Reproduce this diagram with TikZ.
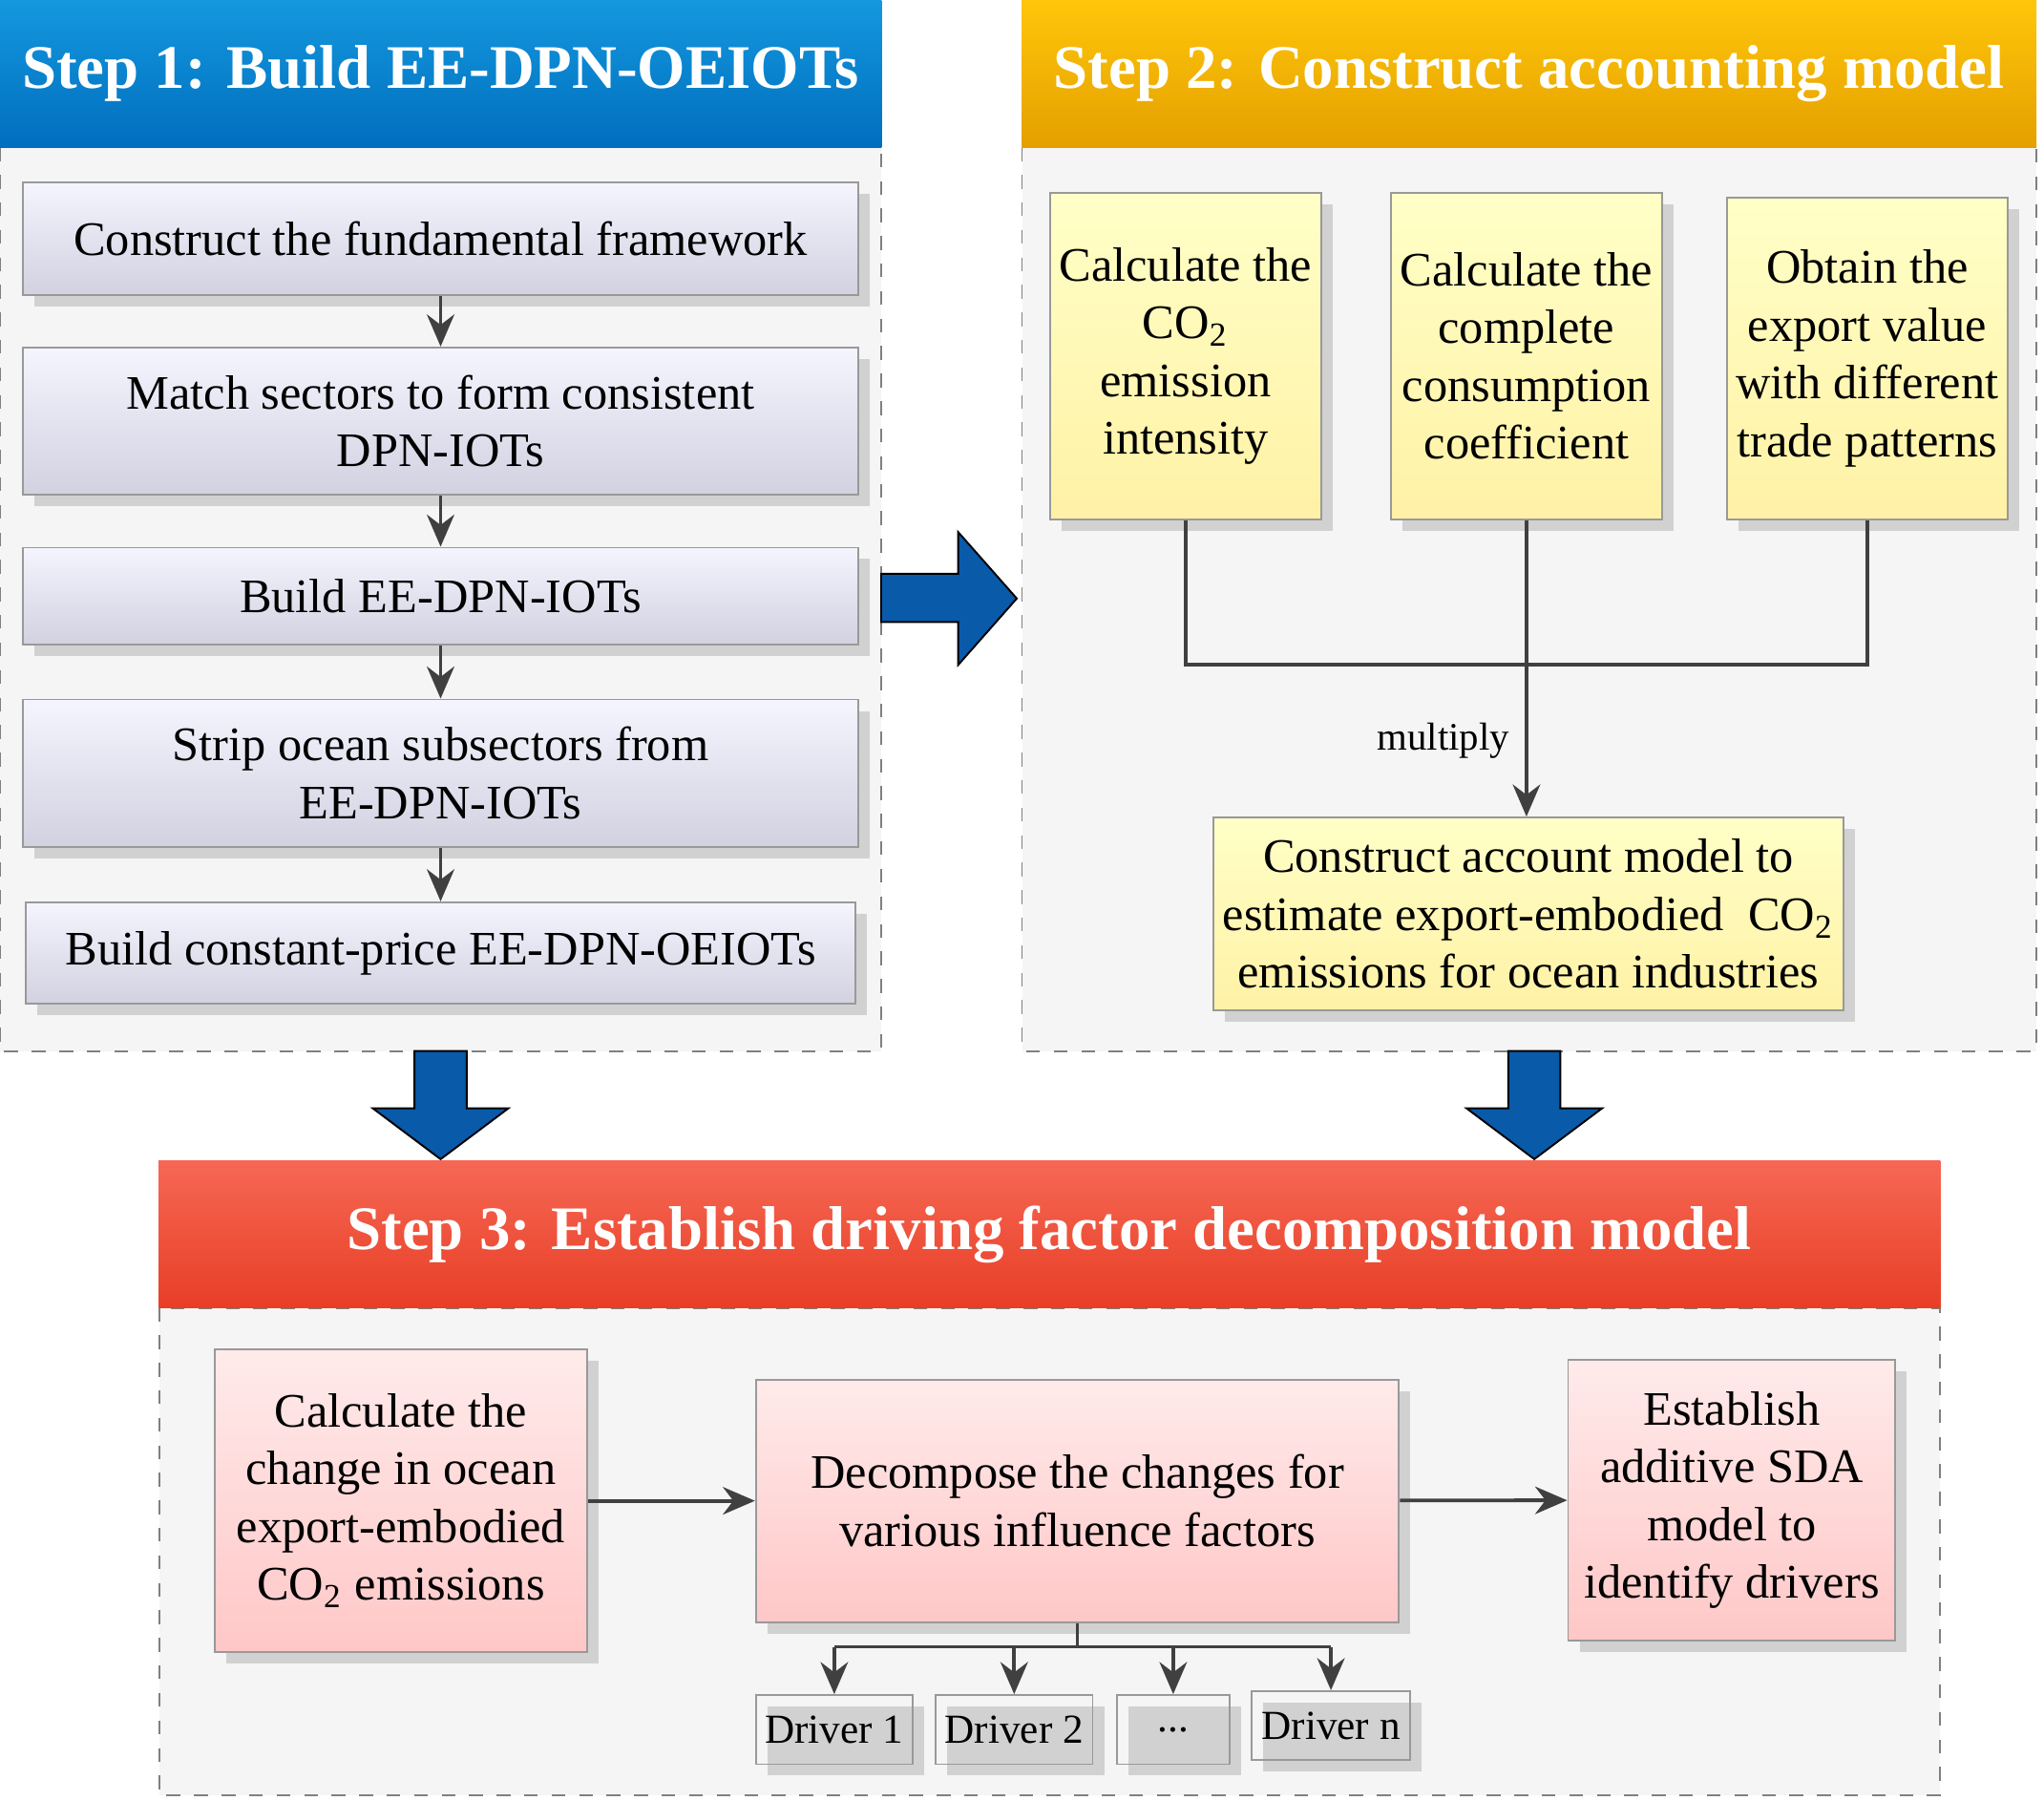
\documentclass[tikz,border=0pt]{standalone}
\usepackage{fontspec}
\setmainfont{Liberation Serif}
\usetikzlibrary{positioning,shadows,arrows.meta}

\definecolor{hdblueT}{RGB}{20,152,222}
\definecolor{hdblueB}{RGB}{0,110,190}
\definecolor{hdgoldT}{RGB}{255,198,10}
\definecolor{hdgoldB}{RGB}{228,160,0}
\definecolor{hdredT}{RGB}{246,104,84}
\definecolor{hdredB}{RGB}{232,62,38}
\definecolor{arrowblue}{RGB}{10,90,170}

\begin{document}
\begin{tikzpicture}[x=0.01cm,y=-0.01cm,
  every node/.style={font=\fontsize{10.5}{12.6}\selectfont},
  header/.style={minimum height=1.13cm, inner sep=0pt, text=white,
    font=\fontsize{13.5}{16}\selectfont\bfseries},
  panel/.style={draw=gray, dashed, fill=gray!8},
  stepbox/.style={draw=gray!80, align=center, inner sep=2pt,
    drop shadow={opacity=0.3,shadow xshift=2.5pt,shadow yshift=-2.5pt}},
  bluebox/.style={stepbox, top color=blue!4, bottom color=blue!20!gray!30, minimum width=6.4cm},
  yellowbox/.style={stepbox, top color=yellow!22, bottom color=orange!30!yellow!35},
  pinkbox/.style={stepbox, top color=red!8, bottom color=red!22},
  driver/.style={stepbox, minimum height=0.53cm, font=\fontsize{9}{11}\selectfont},
  link/.style={draw=black!75, thick, -{Stealth[length=7pt,width=6pt]}},
  bigarrow/.style={fill=arrowblue}]
\useasboundingbox (0,0) rectangle (1568,1381);

% panels
\filldraw[panel] (0,113) rectangle (676,806);
\filldraw[panel] (784,113) rectangle (1562,806);
\filldraw[panel] (122,1003) rectangle (1488,1377);

% headers
\node[header, minimum width=6.76cm, top color=hdblueT, bottom color=hdblueB] (head1) at (338,56.5) {Step 1: Build EE-DPN-OEIOTs};
\node[header, minimum width=7.78cm, top color=hdgoldT, bottom color=hdgoldB] (head2) at (1173,56.5) {Step 2: Construct accounting model};
\node[header, minimum width=13.66cm, top color=hdredT, bottom color=hdredB] (head3) at (805,946.5) {Step 3: Establish driving factor decomposition model};

% step 1
\node[bluebox, minimum height=0.86cm] (frame) at (338,183) {Construct the fundamental framework};
\node[bluebox, minimum height=1.13cm] (match) at (338,323) {Match sectors to form consistent\\DPN-IOTs};
\node[bluebox, minimum height=0.74cm] (build) at (338,457) {Build EE-DPN-IOTs};
\node[bluebox, minimum height=1.13cm] (strip) at (338,593) {Strip ocean subsectors from\\EE-DPN-IOTs};
\node[bluebox, minimum height=0.78cm, minimum width=6.36cm] (const) at (338,731) {Build constant-price EE-DPN-OEIOTs};
\draw[link] (frame) -- (match);
\draw[link] (match) -- (build);
\draw[link] (build) -- (strip);
\draw[link] (strip) -- (const);

% step 2
\node[yellowbox, minimum width=2.05cm, minimum height=2.5cm] (intens) at (909.5,273) {Calculate the\\CO\textsubscript{2}\\emission\\intensity};
\node[yellowbox, minimum width=2.08cm, minimum height=2.5cm] (coeff) at (1171,273) {Calculate the\\complete\\consumption\\coefficient};
\node[yellowbox, minimum width=2.15cm, minimum height=2.46cm] (export) at (1432.5,275) {Obtain the\\export value\\with different\\trade patterns};
\node[yellowbox, minimum width=4.83cm, minimum height=1.48cm] (account) at (1172.5,701) {Construct account model to\\estimate export-embodied\ \ CO\textsubscript{2}\\emissions for ocean industries};
\coordinate (join) at (1171,510);
\draw[draw=black!75, thick] (intens.south) |- (join) -| (export.south);
\draw[draw=black!75, thick] (coeff.south) -- (join);
\draw[link] (join) -- (account.north -| join)
  node[pos=0.5, left, font=\fontsize{8.5}{10}\selectfont] {multiply};

% step 3
\node[pinkbox, minimum width=2.85cm, minimum height=2.32cm] (change) at (307.5,1151) {Calculate the\\change in ocean\\export-embodied\\CO\textsubscript{2} emissions};
\node[pinkbox, minimum width=4.93cm, minimum height=1.86cm] (decomp) at (826.5,1151) {Decompose the changes for\\various influence factors};
\node[pinkbox, minimum width=2.51cm, minimum height=2.15cm] (sda) at (1328.5,1150.5) {Establish\\additive SDA\\model to\\identify drivers};
\draw[link] (change) -- (decomp);
\draw[link] (decomp) -- (sda);
\node[driver, minimum width=1.2cm] (drv1) at (640,1326.5) {Driver 1};
\node[driver, minimum width=1.2cm] (drv2) at (778,1326.5) {Driver 2};
\node[driver, minimum width=0.86cm] (drvd) at (900,1326.5) {...};
\node[driver, minimum width=1.22cm] (drvn) at (1021,1323.5) {Driver n};
\coordinate (fork) at (826.5,1263);
\draw[draw=black!75, thick] (decomp.south) -- (fork);
\draw[draw=black!75, thick] (fork -| drv1) -- (fork -| drvn);
\foreach \d in {drv1,drv2,drvd,drvn}
  \draw[link] (fork -| \d) -- (\d.north);

% big arrows
\draw[bigarrow] (676,440) -- (735,440) -- (735,408) -- (780,459) -- (735,510) -- (735,477) -- (676,477) -- cycle;
\foreach \ax in {338,1177}
  \draw[bigarrow] (\ax-20,806) -- (\ax+20,806) -- (\ax+20,850) -- (\ax+52,850) -- (\ax,889) -- (\ax-52,850) -- (\ax-20,850) -- cycle;
\end{tikzpicture}
\end{document}
